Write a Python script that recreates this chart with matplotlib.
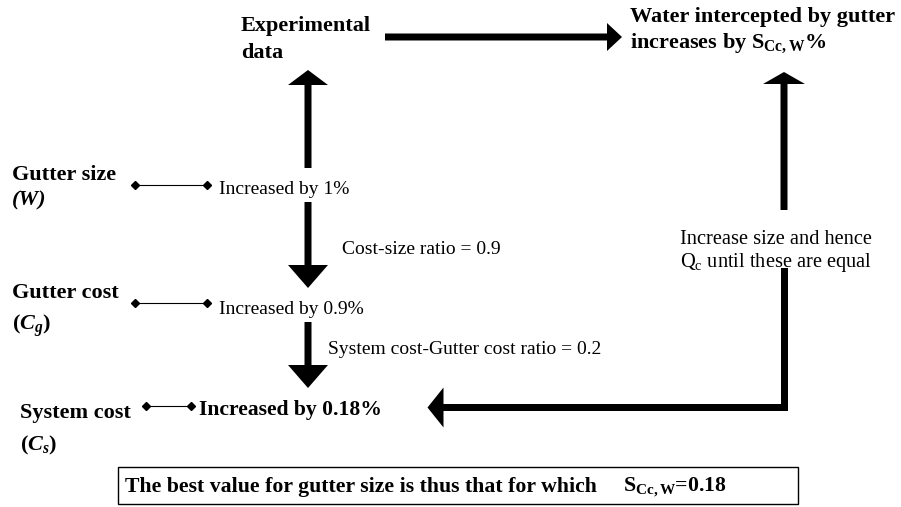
import matplotlib.pyplot as plt
from matplotlib.patches import Rectangle

plt.rcParams['font.family'] = 'Liberation Serif'
plt.rcParams['mathtext.fontset'] = 'custom'
plt.rcParams['mathtext.rm'] = 'Liberation Serif'
plt.rcParams['mathtext.bf'] = 'Liberation Serif:bold'
plt.rcParams['mathtext.it'] = 'Liberation Serif:italic:bold'

# textos do diagrama
rotulos_esq = ['Gutter size', 'Gutter cost', 'System cost']
simbolos_esq = [r'(W)', r'($\mathit{C_g}$)', r'($\mathit{C_s}$)']
aumentos = ['Increased by 1%', 'Increased by 0.9%', 'Increased by 0.18%']
razoes = ['Cost-size ratio = 0.9', 'System cost-Gutter cost ratio = 0.2']
topo_esq = ['Experimental', 'data']
topo_dir = ['Water intercepted by gutter', 'increases by $\\mathbf{S_{Cc,W}}$%']
nota_dir = ['Increase size and hence', 'Q$_\\mathrm{c}$ until these are equal']
conclusao = ['The best value for gutter size is thus that for which', '$\\mathbf{S_{Cc,W}}$=0.18']

# posicoes (pixels, y para baixo)
pos_topo_esq = [(241, 31), (241, 58)]
pos_topo_dir = [(630, 22), (630, 48)]
pos_rotulos = [(12, 175), (12, 293), (20, 413)]
pos_simbolos = [(12, 200), (12, 326), (20, 445)]
pos_aumentos = [(219, 189), (219, 310), (199, 410)]
conectores = [(135, 207, 185), (135, 207, 303), (146, 191, 406)]
pos_razoes = [(342, 250), (328, 349)]

fig = plt.figure(figsize=(9.01, 5.07), dpi=100)
ax = fig.add_axes([0, 0, 1, 1])
ax.set_xlim(0, 901)
ax.set_ylim(507, 0)
ax.axis('off')

# cabecalhos
for (x, y), t in zip(pos_topo_esq, topo_esq):
    ax.text(x, y, t, fontsize=16, fontweight='bold', va='baseline')
for (x, y), t in zip(pos_topo_dir, topo_dir):
    ax.text(x, y, t, fontsize=16, fontweight='bold', va='baseline')

for (x, y), t in zip(pos_rotulos, rotulos_esq):
    ax.text(x, y, t, fontsize=16, fontweight='bold', va='center')
for i, ((x, y), t) in enumerate(zip(pos_simbolos, simbolos_esq)):
    estilo = 'italic' if i == 0 else 'normal'
    ax.text(x, y, t, fontsize=16, fontweight='bold', style=estilo, va='center')

for i, ((x, y), t) in enumerate(zip(pos_aumentos, aumentos)):
    if i == 2:
        ax.text(x, y, t, fontsize=15.6, fontweight='bold', va='center')
    else:
        ax.text(x, y, t, fontsize=14, va='center')

for x0, x1, y in conectores:
    ax.plot([x0, x1], [y, y], color='k', lw=0.8, marker='D', ms=4.5)

for (x, y), t in zip(pos_razoes, razoes):
    ax.text(x, y, t, fontsize=14, va='center')

ax.text(680, 240, nota_dir[0], fontsize=14.7, va='center')
ax.text(680, 262, nota_dir[1], fontsize=14.7, va='center')

# setas
kw = dict(width=7, length_includes_head=True, color='k', lw=0)
ax.arrow(308, 168, 0, -98, head_width=40, head_length=15, **kw)
ax.arrow(308, 202, 0, 86, head_width=40, head_length=23, **kw)
ax.arrow(308, 322, 0, 66, head_width=40, head_length=23, **kw)
ax.arrow(385, 37, 237, 0, head_width=28, head_length=15, **kw)
ax.arrow(784, 210, 0, -138, head_width=42, head_length=12, **kw)
ax.add_patch(Rectangle((780.5, 268), 7, 143, color='k', lw=0))
ax.arrow(787.5, 407.5, -360, 0, head_width=40, head_length=16, **kw)

# caixa de conclusao
ax.add_patch(Rectangle((118, 467), 680, 37, fill=False, ec='k', lw=1))
ax.text(125, 487, conclusao[0], fontsize=15.7, fontweight='bold', va='center')
ax.text(623, 487, conclusao[1], fontsize=15.7, fontweight='bold', va='center')

fig.savefig('out.png', dpi=100)
